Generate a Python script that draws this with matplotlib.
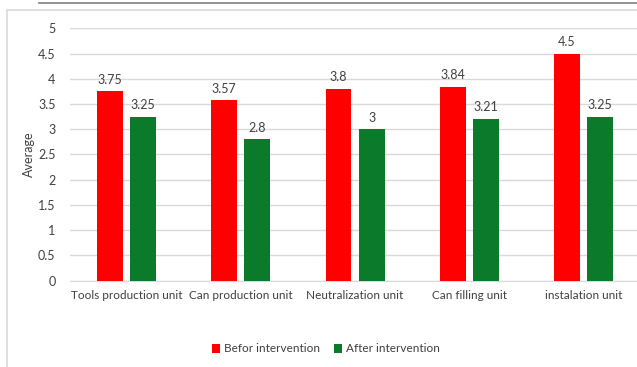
import numpy as np
import matplotlib.pyplot as plt
from matplotlib.lines import Line2D
from matplotlib.patches import Rectangle

plt.rcParams['font.family'] = ['Lato', 'DejaVu Sans']

units = ["Tools production unit", "Can production unit", "Neutralization unit",
         "Can filling unit", "instalation unit"]
before = [3.75, 3.57, 3.8, 3.84, 4.5]
after = [3.25, 2.8, 3, 3.21, 3.25]
yticks = [0, 0.5, 1, 1.5, 2, 2.5, 3, 3.5, 4, 4.5, 5]

W, H = 637, 367
fig = plt.figure(figsize=(W / 100, H / 100), dpi=100)

# outer chart frame and the dark rule above it
fig.add_artist(Rectangle((7 / W, -0.1), 1.2, 1.1 - 10 / H, transform=fig.transFigure,
                         fill=False, edgecolor='#d9d9d9', lw=1.2))
fig.add_artist(Line2D([39 / W, 1], [1 - 2.5 / H, 1 - 2.5 / H], transform=fig.transFigure,
                      color='#7f7f7f', lw=1.2))

ax = fig.add_axes([69.5 / W, 1 - 280.5 / H, (640.6 - 69.5) / W, (280.5 - 28.3) / H])

x = np.arange(len(units))
bw = 0.226
off = 0.145
red = ax.bar(x - off, before, bw, color='#ff0000', label='Befor intervention', zorder=3)
green = ax.bar(x + off, after, bw, color='#0b7a2a', label='After intervention', zorder=3)

fs = 9
for bars, vals in ((red, before), (green, after)):
    for b, v in zip(bars, vals):
        ax.text(b.get_x() + b.get_width() / 2, v + 0.11, f"{v:g}",
                ha='center', va='bottom', fontsize=fs, color='#404040')

ax.set_xlim(-0.5, len(units) - 0.5)
ax.set_ylim(0, 5)
ax.set_yticks(yticks)
ax.set_yticklabels([f"{t:g}" for t in yticks])
ax.set_xticks(x)
ax.set_xticklabels(units)
ax.tick_params(axis='both', length=0, labelsize=fs, colors='#404040')
ax.tick_params(axis='x', labelsize=8.5, pad=7)
ax.tick_params(axis='y', pad=10)
ax.yaxis.grid(True, color='#d9d9d9', lw=1, zorder=0)
for s in ['top', 'right', 'left']:
    ax.spines[s].set_visible(False)
ax.spines['bottom'].set_color('#d9d9d9')
ax.set_ylabel("Average", fontsize=fs, color='#404040', labelpad=2)

fig.legend(handles=[red, green], loc='center', bbox_to_anchor=(326 / W, 1 - 349 / H),
           ncol=2, frameon=False, fontsize=8.5, handlelength=0.7, handleheight=0.7,
           handletextpad=0.3, columnspacing=1.2, labelcolor='#404040')

fig.savefig("out.png", dpi=100)
